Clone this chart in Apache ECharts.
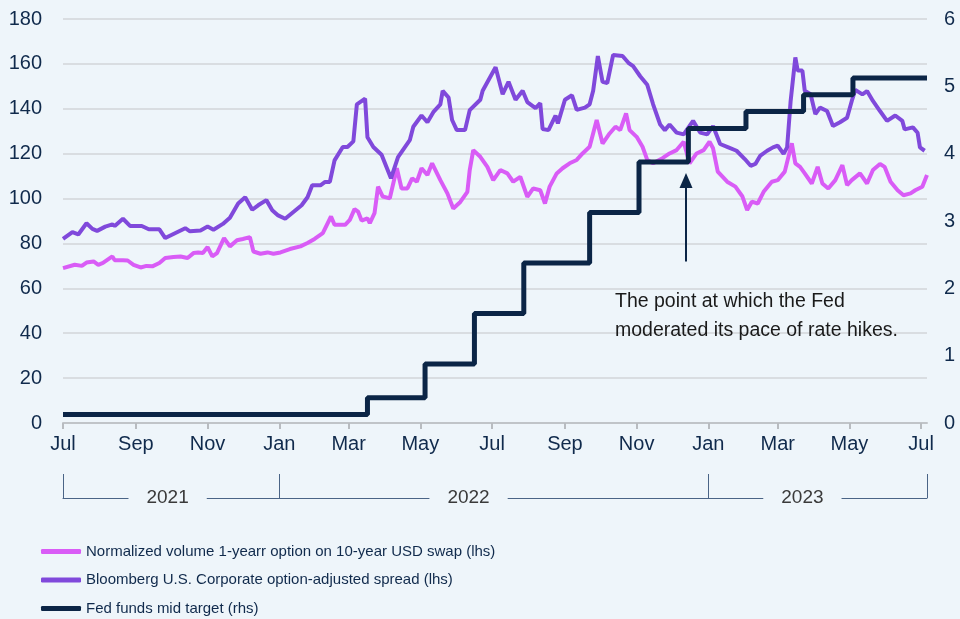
<!DOCTYPE html>
<html>
<head>
<meta charset="utf-8">
<script src="https://cdn.jsdelivr.net/npm/echarts@6/dist/echarts.min.js"></script>
<style>
html,body{margin:0;padding:0;background:#EEF5FA;}
#echarts{width:960px;height:619px;}
</style>
</head>
<body>
<div id="echarts"></div>
<script>
// Normalized volume 1-year option on 10-year USD swap (lhs)
var volDates=['2021-07-01','2021-07-11','2021-07-17','2021-07-21','2021-07-27','2021-07-31','2021-08-04','2021-08-12','2021-08-14','2021-08-21','2021-08-25','2021-08-30','2021-09-05','2021-09-10','2021-09-15','2021-09-21','2021-09-26','2021-10-03','2021-10-09','2021-10-15','2021-10-20','2021-10-24','2021-10-28','2021-11-01','2021-11-05','2021-11-09','2021-11-15','2021-11-20','2021-11-26','2021-12-01','2021-12-07','2021-12-10','2021-12-16','2021-12-22','2021-12-27','2022-01-02','2022-01-10','2022-01-19','2022-01-25','2022-01-31','2022-02-07','2022-02-14','2022-02-17','2022-02-26','2022-03-02','2022-03-06','2022-03-09','2022-03-12','2022-03-17','2022-03-19','2022-03-23','2022-03-26','2022-03-30','2022-04-05','2022-04-11','2022-04-15','2022-04-20','2022-04-24','2022-04-28','2022-05-02','2022-05-07','2022-05-11','2022-05-18','2022-05-24','2022-05-29','2022-06-04','2022-06-10','2022-06-12','2022-06-15','2022-06-21','2022-06-27','2022-07-02','2022-07-08','2022-07-14','2022-07-19','2022-07-25','2022-07-31','2022-08-05','2022-08-11','2022-08-15','2022-08-19','2022-08-25','2022-08-30','2022-09-05','2022-09-11','2022-09-16','2022-09-22','2022-09-28','2022-10-03','2022-10-09','2022-10-14','2022-10-18','2022-10-23','2022-10-26','2022-11-01','2022-11-06','2022-11-10','2022-11-15','2022-11-23','2022-11-29','2022-12-05','2022-12-11','2022-12-16','2022-12-22','2022-12-28','2023-01-02','2023-01-05','2023-01-09','2023-01-17','2023-01-24','2023-01-30','2023-02-03','2023-02-07','2023-02-12','2023-02-17','2023-02-24','2023-03-01','2023-03-07','2023-03-13','2023-03-16','2023-03-20','2023-03-24','2023-03-30','2023-04-04','2023-04-08','2023-04-13','2023-04-19','2023-04-25','2023-04-29','2023-05-03','2023-05-10','2023-05-16','2023-05-21','2023-05-27','2023-05-31','2023-06-05','2023-06-11','2023-06-16','2023-06-22','2023-06-26','2023-07-02','2023-07-06'];
var volValues=[69,70.5,70,71.5,72,70.5,71.3,74.2,72.5,72.5,72.4,70.5,69.3,70,69.8,71.3,73.5,74,74.2,73.5,75.7,76,75.7,78.4,74.2,75.7,82.4,78.7,81.4,82,82.8,76.4,75.4,76,75.4,76,77.5,78.7,80.2,82,84.6,92,88.3,88.3,90.5,95.3,94.2,90.2,91.2,89,93.5,105.3,100.9,100.1,113.5,104.5,104.5,109,107.5,113.5,110.5,115.7,108.2,102.3,95.6,98.5,103,112.7,121.6,118.6,114.1,108.2,112.7,111.2,107.5,109.7,100.8,104.5,103.7,97.8,105.3,111.2,113.5,115.7,117.2,120.1,123.1,135,124.5,129,132,130.5,137.9,130.5,127.5,123.1,117.2,115.7,118,120.1,121.6,125.3,115.7,120.1,121.6,125.3,122.4,112,107.5,105.3,100.9,94.9,98.6,97.8,103,107.5,108.2,112,124.6,115.7,114.1,111.2,106.7,114.1,106.7,104.5,108.2,114.9,106,108.2,111.2,106.7,112.7,115.4,114.1,107.5,103.7,101.5,102.3,103.7,105.3,110.5];

// Bloomberg U.S. Corporate option-adjusted spread (lhs)
var oasDates=['2021-07-01','2021-07-09','2021-07-14','2021-07-21','2021-07-26','2021-07-30','2021-08-06','2021-08-12','2021-08-14','2021-08-21','2021-08-27','2021-09-06','2021-09-12','2021-09-21','2021-09-26','2021-10-06','2021-10-13','2021-10-17','2021-10-26','2021-11-01','2021-11-06','2021-11-14','2021-11-20','2021-11-27','2021-12-03','2021-12-09','2021-12-14','2021-12-21','2021-12-26','2021-12-31','2022-01-06','2022-01-13','2022-01-20','2022-01-25','2022-01-29','2022-02-05','2022-02-09','2022-02-13','2022-02-17','2022-02-24','2022-02-28','2022-03-05','2022-03-08','2022-03-15','2022-03-17','2022-03-22','2022-03-29','2022-04-06','2022-04-12','2022-04-22','2022-04-25','2022-05-02','2022-05-07','2022-05-12','2022-05-18','2022-05-20','2022-05-25','2022-05-28','2022-06-01','2022-06-08','2022-06-12','2022-06-21','2022-06-23','2022-07-04','2022-07-10','2022-07-15','2022-07-21','2022-07-27','2022-07-31','2022-08-07','2022-08-11','2022-08-13','2022-08-18','2022-08-24','2022-08-26','2022-09-01','2022-09-07','2022-09-11','2022-09-18','2022-09-22','2022-09-25','2022-09-29','2022-10-03','2022-10-07','2022-10-12','2022-10-20','2022-10-25','2022-10-29','2022-11-04','2022-11-10','2022-11-15','2022-11-21','2022-11-25','2022-11-29','2022-12-05','2022-12-11','2022-12-19','2022-12-25','2022-12-31','2023-01-05','2023-01-11','2023-01-18','2023-01-25','2023-02-01','2023-02-06','2023-02-10','2023-02-14','2023-02-20','2023-02-25','2023-03-01','2023-03-06','2023-03-09','2023-03-12','2023-03-16','2023-03-18','2023-03-22','2023-03-24','2023-03-29','2023-04-02','2023-04-06','2023-04-12','2023-04-17','2023-04-23','2023-04-29','2023-05-03','2023-05-06','2023-05-12','2023-05-16','2023-05-21','2023-05-27','2023-06-02','2023-06-09','2023-06-15','2023-06-17','2023-06-24','2023-06-28','2023-06-30','2023-07-04'];
var oasValues=[82,85,84,89,86.5,85.6,87.5,88.5,87.8,91,87.8,87.8,86.3,86.3,82.4,85,86.8,85.4,85.8,87.5,86.1,88.7,91.5,97.8,100.6,95,97,99.3,94.8,92.5,91,94,97,100.6,105.9,105.9,107.4,107.4,117,123,123,125.5,142,144.5,127.3,123,119.5,109,118.5,126,132,137,134,138.5,142,148,145,135,130.5,130.5,139.4,144,148,158.5,146.5,152,144,148,143,140.3,142.5,131,130.5,137,133.5,144,146,139.5,140.5,142,148,163.5,152,151.5,164,163.5,160.5,159,154.5,150.7,142,133,130.5,133,129.4,128.6,134.6,129.4,128.6,132.3,124.3,122.8,121.3,117.6,114.6,115.4,119,121.3,122.8,123.6,119.9,122.8,143.5,162.9,157,157,148,146.5,137.6,140.5,139,132.3,134,136,143.5,148.4,146.4,147.9,143.5,139,134.6,137,134.6,130.8,131.7,129.3,122.8,121.3];

// Fed funds mid target (rhs), value holds from each date
var fedDates=['2021-07-01','2022-03-17','2022-05-05','2022-06-16','2022-07-28','2022-09-22','2022-11-03','2022-12-15','2023-02-02','2023-03-23','2023-05-04','2023-07-06'];
var fedValues=[0.125,0.375,0.875,1.625,2.375,3.125,3.875,4.375,4.625,4.875,5.125,5.125];

var monthTicks=['2021-07-01','2021-09-01','2021-11-01','2022-01-01','2022-03-01','2022-05-01','2022-07-01','2022-09-01','2022-11-01','2023-01-01','2023-03-01','2023-05-01','2023-07-01'];
var monthNames=['Jan','Feb','Mar','Apr','May','Jun','Jul','Aug','Sep','Oct','Nov','Dec'];
var yearBreaks=['2021-07-01','2022-01-01','2023-01-01','2023-07-06'];
var yearLabelAt=['2021-09-28','2022-06-11','2023-03-22'];
var arrowDate='2022-12-13';
var arrowFrom=2.4, arrowTo=3.6;

var seriesNames=['Normalized volume 1-yearr option on 10-year USD swap (lhs)','Bloomberg U.S. Corporate option-adjusted spread (lhs)','Fed funds mid target (rhs)'];
var noteText='The point at which the Fed\nmoderated its pace of rate hikes.';

function ts(s){
    var p=s.split('-');
    return Date.UTC(+p[0],+p[1]-1,+p[2]);
}
function pairs(d,v){
    return d.map(function(x,i){return [ts(x),v[i]];});
}

var FONT="'Liberation Sans',Arial,sans-serif";
var NAVY='#0B2546';
var TXT='#102A4C';
var BG='#EEF5FA';

var myChart=echarts.init(document.getElementById('echarts'));
var option={
    backgroundColor:BG,
    animation:false,
    textStyle:{fontFamily:FONT},
    grid:{left:63,right:33,top:19,bottom:196},
    legend:{
        orient:'vertical',
        left:41,
        top:544,
        height:100,
        padding:0,
        icon:'roundRect',
        itemWidth:40,
        itemHeight:5,
        itemGap:13.5,
        textStyle:{fontFamily:FONT,fontSize:15,color:TXT},
        data:seriesNames
    },
    // dates are kept as timestamps on a value axis so that the ticks can be placed by hand
    xAxis:[
        {
            type:'value',
            min:ts('2021-07-01'),
            max:ts('2023-07-06'),
            axisLine:{lineStyle:{color:'#C0C4C8',width:2}},
            axisTick:{show:true,customValues:monthTicks.map(ts),length:6,lineStyle:{color:'#B8BCC0',width:2}},
            axisLabel:{
                customValues:monthTicks.map(ts),
                fontFamily:FONT,fontSize:20,color:TXT,margin:11,
                formatter:function(v){return monthNames[new Date(v).getUTCMonth()];}
            },
            splitLine:{show:false}
        },
        {
            type:'value',
            position:'bottom',
            offset:75,
            min:ts('2021-07-01'),
            max:ts('2023-07-06'),
            axisLine:{show:true,onZero:false,lineStyle:{color:'#4A6486',width:1}},
            axisTick:{show:true,inside:true,customValues:yearBreaks.map(ts),length:24,lineStyle:{color:'#4A6486',width:1}},
            axisLabel:{
                customValues:yearLabelAt.map(ts),
                fontFamily:FONT,fontSize:19,color:'#3A3A3A',
                margin:0,verticalAlign:'middle',
                backgroundColor:BG,padding:[0,18],
                formatter:function(v){return String(new Date(v).getUTCFullYear());}
            },
            splitLine:{show:false}
        }
    ],
    yAxis:[
        {
            type:'value',min:0,max:180,interval:20,
            axisLine:{show:false},axisTick:{show:false},
            axisLabel:{fontFamily:FONT,fontSize:20,color:TXT,margin:21},
            splitLine:{lineStyle:{color:'#D9DDE1',width:2}}
        },
        {
            type:'value',min:0,max:6,interval:1,
            axisLine:{show:false},axisTick:{show:false},
            axisLabel:{fontFamily:FONT,fontSize:20,color:TXT,margin:17},
            splitLine:{show:false}
        }
    ],
    graphic:[
        {
            type:'text',left:615,top:287,z:10,
            style:{text:noteText,fontFamily:FONT,fontSize:19.5,lineHeight:29,fill:'#1A1A1A'}
        }
    ],
    series:[
        {
            name:seriesNames[0],type:'line',showSymbol:false,
            lineStyle:{width:4,color:'#D95CF6'},itemStyle:{color:'#D95CF6'},
            data:pairs(volDates,volValues)
        },
        {
            name:seriesNames[1],type:'line',showSymbol:false,
            lineStyle:{width:4,color:'#8049DB'},itemStyle:{color:'#8049DB'},
            data:pairs(oasDates,oasValues)
        },
        {
            name:seriesNames[2],type:'line',yAxisIndex:1,step:'end',showSymbol:false,
            lineStyle:{width:5,color:NAVY},itemStyle:{color:NAVY},
            data:pairs(fedDates,fedValues),
            markLine:{
                silent:true,
                symbol:['none','triangle'],
                symbolSize:[13,15],
                label:{show:false},
                lineStyle:{color:NAVY,width:2,type:'solid'},
                data:[[{coord:[ts(arrowDate),arrowFrom]},{coord:[ts(arrowDate),arrowTo]}]]
            }
        }
    ]
};
myChart.setOption(option);
</script>
</body>
</html>
